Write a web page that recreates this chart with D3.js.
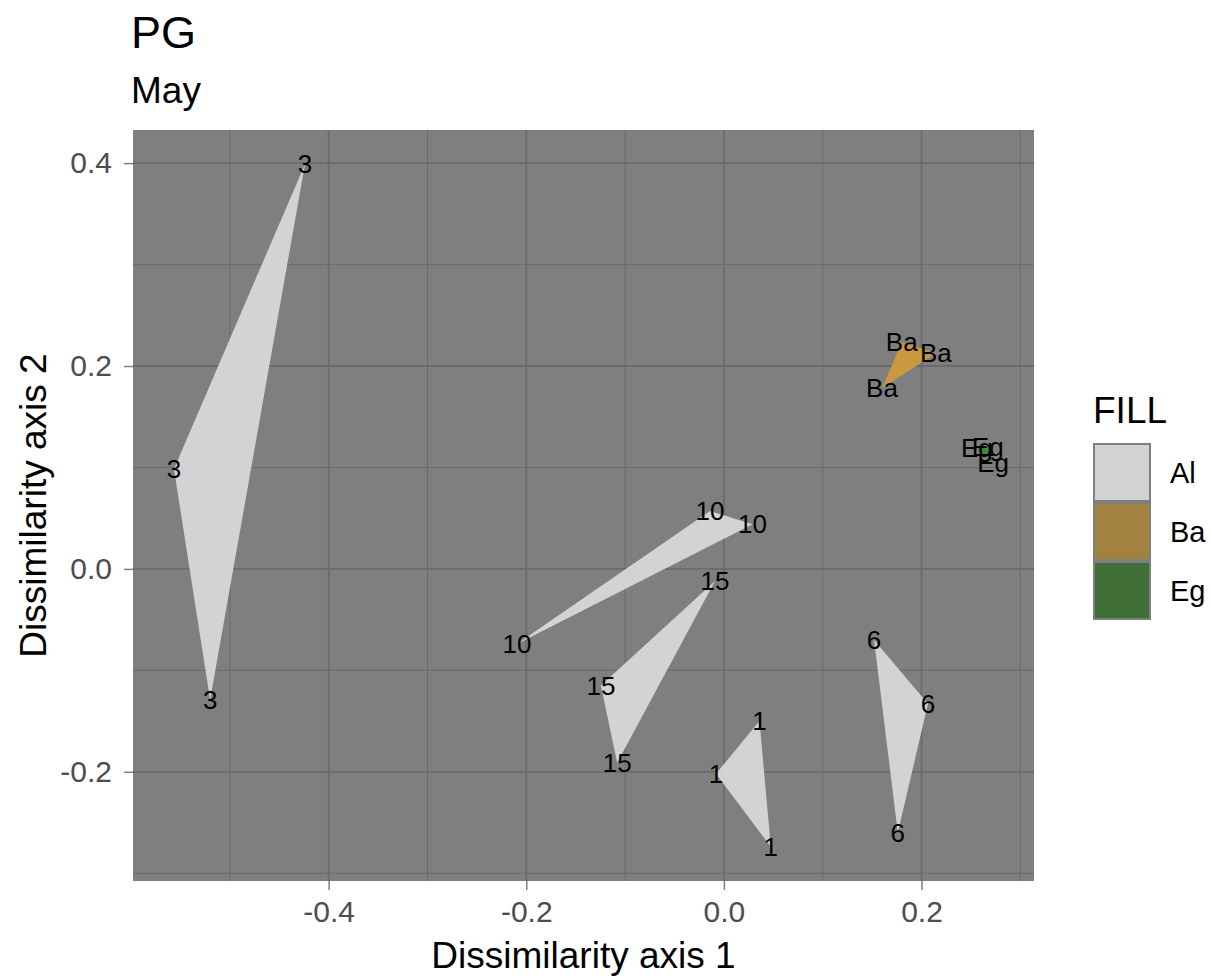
<!DOCTYPE html>
<html>
<head>
<meta charset="utf-8">
<script src="https://cdn.jsdelivr.net/npm/d3@7"></script>
<style>
  html, body { margin: 0; padding: 0; background: #ffffff; }
  svg { display: block; font-family: "Liberation Sans", Arial, Helvetica, sans-serif; }
</style>
</head>
<body>
<svg id="chart" width="1211" height="978"></svg>
<script>
// Ordination sites: label shown at each point, fill group, and coordinates on the two axes
const siteLabels = ["3", "3", "3", "10", "10", "10", "15", "15", "15",
                    "1", "1", "1", "6", "6", "6", "Ba", "Ba", "Ba", "Eg", "Eg", "Eg"];
const fillGroups = ["Al", "Al", "Al", "Al", "Al", "Al", "Al", "Al", "Al",
                    "Al", "Al", "Al", "Al", "Al", "Al", "Ba", "Ba", "Ba", "Eg", "Eg", "Eg"];
const axis1 = [-0.424, -0.5566, -0.520, -0.014, 0.029, -0.2095, -0.009, -0.1245, -0.108,
               0.036, -0.008, 0.0475, 0.152, 0.2065, 0.176, 0.180, 0.2145, 0.160, 0.256, 0.267, 0.2724];
const axis2 = [0.399, 0.0985, -0.129, 0.057, 0.044, -0.074, -0.012, -0.115, -0.191,
               -0.150, -0.202, -0.274, -0.070, -0.133, -0.260, 0.2235, 0.2125, 0.178, 0.119, 0.120, 0.104];

const legendKeys = ["Al", "Ba", "Eg"];
const polyColors = ["#d3d3d3", "#c8993f", "#3f8a3a"];
const keyColors = ["#d3d3d3", "#a3813f", "#3f6e37"];

const xTicks = [-0.4, -0.2, 0.0, 0.2];
const yTicks = [-0.2, 0.0, 0.2, 0.4];
const xMinor = [-0.5, -0.3, -0.1, 0.1, 0.3];
const yMinor = [-0.3, -0.1, 0.1, 0.3];

const titleText = "PG";
const subtitleText = "May";
const xTitle = "Dissimilarity axis 1";
const yTitle = "Dissimilarity axis 2";
const legendTitle = "FILL";

const svg = d3.select("#chart");
const panel = { left: 133, right: 1034, top: 130, bottom: 881 };

// Data range padded by 5% on each side
function expanded(vals) {
  const [lo, hi] = d3.extent(vals);
  const pad = (hi - lo) * 0.05;
  return [lo - pad, hi + pad];
}

const x = d3.scaleLinear().domain(expanded(axis1)).range([panel.left, panel.right]);
const y = d3.scaleLinear().domain(expanded(axis2)).range([panel.bottom, panel.top]);
const fill = d3.scaleOrdinal().domain(legendKeys).range(polyColors);
const keyFill = d3.scaleOrdinal().domain(legendKeys).range(keyColors);

const sites = siteLabels.map((lab, i) => ({ lab, grp: fillGroups[i], a: axis1[i], b: axis2[i] }));

// Panel background
svg.append("rect")
  .attr("x", panel.left).attr("y", panel.top)
  .attr("width", panel.right - panel.left).attr("height", panel.bottom - panel.top)
  .attr("fill", "#7f7f7f");

const grid = svg.append("g").attr("stroke", "#6b6b6b");
grid.selectAll(".vmin").data(xMinor).join("line")
  .attr("x1", d => x(d)).attr("x2", d => x(d))
  .attr("y1", panel.top).attr("y2", panel.bottom)
  .attr("stroke-width", 1);
grid.selectAll(".hmin").data(yMinor).join("line")
  .attr("y1", d => y(d)).attr("y2", d => y(d))
  .attr("x1", panel.left).attr("x2", panel.right)
  .attr("stroke-width", 1);
grid.selectAll(".vmaj").data(xTicks).join("line")
  .attr("x1", d => x(d)).attr("x2", d => x(d))
  .attr("y1", panel.top).attr("y2", panel.bottom)
  .attr("stroke-width", 1.8);
grid.selectAll(".hmaj").data(yTicks).join("line")
  .attr("y1", d => y(d)).attr("y2", d => y(d))
  .attr("x1", panel.left).attr("x2", panel.right)
  .attr("stroke-width", 1.8);

// Convex hull per site label
const hulls = d3.groups(sites, d => d.lab).map(([lab, pts]) => {
  const hull = d3.polygonHull(pts.map(p => [x(p.a), y(p.b)]));
  return { lab, grp: pts[0].grp, hull };
});
svg.append("g").selectAll("path").data(hulls).join("path")
  .attr("d", d => "M" + d.hull.join("L") + "Z")
  .attr("fill", d => fill(d.grp))
  .attr("stroke", "none");

// Point labels
svg.append("g").selectAll("text").data(sites).join("text")
  .attr("x", d => x(d.a)).attr("y", d => y(d.b))
  .attr("text-anchor", "middle").attr("dominant-baseline", "central")
  .attr("font-size", 26).attr("fill", "#000")
  .text(d => d.lab);

// Axes
const fmt = d => d3.format(".1f")(d).replace("\u2212", "-");
const xAxis = svg.append("g")
  .attr("transform", `translate(0,${panel.bottom})`)
  .call(d3.axisBottom(x).tickValues(xTicks).tickFormat(fmt).tickSize(9).tickPadding(11));
const yAxis = svg.append("g")
  .attr("transform", `translate(${panel.left},0)`)
  .call(d3.axisLeft(y).tickValues(yTicks).tickFormat(fmt).tickSize(9).tickPadding(12));
[xAxis, yAxis].forEach(g => {
  g.select(".domain").remove();
  g.selectAll(".tick line").attr("stroke", "#808080").attr("stroke-width", 1.5);
  g.selectAll(".tick text").attr("fill", "#4d4d4d").attr("font-size", 30)
    .attr("font-family", "'Liberation Sans', Arial, sans-serif");
});

// Axis titles
svg.append("text")
  .attr("x", (panel.left + panel.right) / 2).attr("y", 968)
  .attr("text-anchor", "middle").attr("font-size", 37).attr("fill", "#000")
  .text(xTitle);
svg.append("text")
  .attr("transform", `translate(46,${(panel.top + panel.bottom) / 2}) rotate(-90)`)
  .attr("text-anchor", "middle").attr("font-size", 37).attr("fill", "#000")
  .text(yTitle);

// Title and subtitle
svg.append("text").attr("x", 131).attr("y", 48)
  .attr("font-size", 45).attr("fill", "#000").text(titleText);
svg.append("text").attr("x", 131).attr("y", 103)
  .attr("font-size", 37).attr("fill", "#000").text(subtitleText);

// Legend
const legend = svg.append("g").attr("transform", "translate(1093,0)");
legend.append("text").attr("x", 0).attr("y", 423)
  .attr("font-size", 37).attr("fill", "#000").text(legendTitle);
const keyH = 59, keyTop = 443;
const key = legend.selectAll(".key").data(legendKeys).join("g")
  .attr("transform", (d, i) => `translate(0,${keyTop + i * keyH})`);
key.append("rect").attr("width", 58).attr("height", keyH).attr("fill", "#7f7f7f");
key.append("rect").attr("x", 2).attr("y", 2).attr("width", 54).attr("height", keyH - 4)
  .attr("fill", d => keyFill(d));
key.append("text").attr("x", 77).attr("y", keyH / 2)
  .attr("dominant-baseline", "central").attr("font-size", 29).attr("fill", "#000")
  .text(d => d);
</script>
</body>
</html>
